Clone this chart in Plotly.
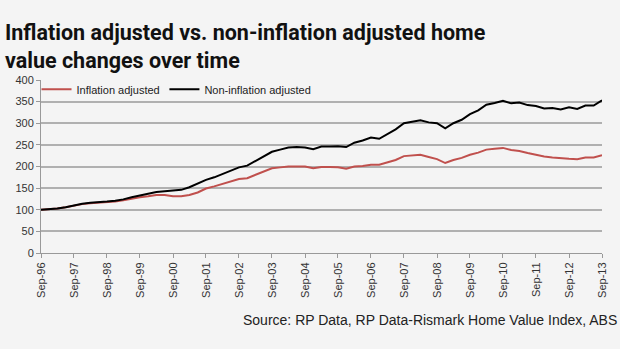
import plotly.graph_objects as go
import pandas as pd

quarters = pd.date_range("1996-09-01", periods=69, freq="3MS")

non_inflation_adjusted = [
    100, 101, 103, 106, 110, 114, 116, 117, 119, 121, 124, 129, 133, 137, 141, 143,
    144, 146, 152, 160, 169, 175, 183, 191, 198, 202, 212, 222, 234, 239, 244, 245,
    244, 240, 246, 246, 247, 245, 255, 260, 267, 264, 275, 286, 300, 303, 307, 302,
    300, 288, 300, 308, 321, 330, 343, 347, 352, 346, 348, 342, 340, 334, 335, 332,
    337, 333, 341, 341, 353,
]
inflation_adjusted = [
    100, 101, 103, 106, 110, 113, 115, 116, 117, 119, 122, 126, 129, 131, 134, 134,
    131, 131, 134, 140, 149, 154, 160, 166, 171, 173, 180, 188, 196, 198, 200, 200,
    200, 196, 199, 199, 198, 195, 200, 201, 204, 204, 210, 215, 224, 225, 227, 222,
    217, 208, 215, 220, 227, 232, 239, 241, 243, 238, 236, 231, 227, 223, 221, 219,
    218, 217, 221, 221, 226,
]
tick_dates = pd.date_range("1996-09-01", "2013-09-01", freq="12MS")
y_ticks = [0, 50, 100, 150, 200, 250, 300, 350, 400]

fig = go.Figure()
fig.add_trace(go.Scatter(x=quarters, y=inflation_adjusted, mode="lines",
                         name="Inflation adjusted", legend="legend",
                         line=dict(color="#c0504d", width=2)))
fig.add_trace(go.Scatter(x=quarters, y=non_inflation_adjusted, mode="lines",
                         name="Non-inflation adjusted", legend="legend2",
                         line=dict(color="#000000", width=2)))

legend_common = dict(orientation="h", y=1.03, xanchor="left", yanchor="top",
                     bgcolor="rgba(0,0,0,0)", font=dict(size=11, color="#222222"),
                     itemwidth=30)

fig.update_layout(
    width=620, height=349,
    paper_bgcolor="#f4f4f4", plot_bgcolor="#f4f4f4",
    margin=dict(l=41, r=16, t=80, b=96),
    font=dict(family="Liberation Sans, Arial, sans-serif", color="#333333", size=11),
    showlegend=True,
    legend=dict(x=-0.008, **legend_common),
    legend2=dict(x=0.22, **legend_common),
    xaxis=dict(
        range=[quarters[0], quarters[-1]],
        tickmode="array", tickvals=tick_dates,
        ticktext=[d.strftime("%b-%y") for d in tick_dates],
        tickangle=-90, showgrid=False, showline=True, linecolor="#999999",
        ticks="outside", ticklen=4, tickcolor="#999999",
        tickfont=dict(size=11, color="#333333"), zeroline=False,
    ),
    yaxis=dict(
        range=[0, 400], tickmode="array", tickvals=y_ticks,
        showgrid=True, gridcolor="#b0b0b0", gridwidth=1.5,
        showline=True, linecolor="#999999", ticks="outside", ticklen=4,
        tickcolor="#999999", tickfont=dict(size=11, color="#333333"),
        zeroline=False,
    ),
)

fig.add_annotation(
    text="<b>Inflation adjusted vs. non-inflation adjusted home<br>value changes over time</b>",
    xref="paper", yref="paper", x=-0.068, y=1.0, xanchor="left", yanchor="bottom",
    yshift=5, align="left", showarrow=False,
    font=dict(family="Roboto, Liberation Sans, Arial, sans-serif",
              size=21.5, color="#111111"),
)
fig.add_annotation(
    text="Source: RP Data, RP Data-Rismark Home Value Index, ABS",
    xref="paper", yref="paper", x=1.03, y=-0.33, xanchor="right", yanchor="top",
    showarrow=False,
    font=dict(family="Liberation Sans, Arial, sans-serif", size=14, color="#222222"),
)

fig.write_html("out.html")
